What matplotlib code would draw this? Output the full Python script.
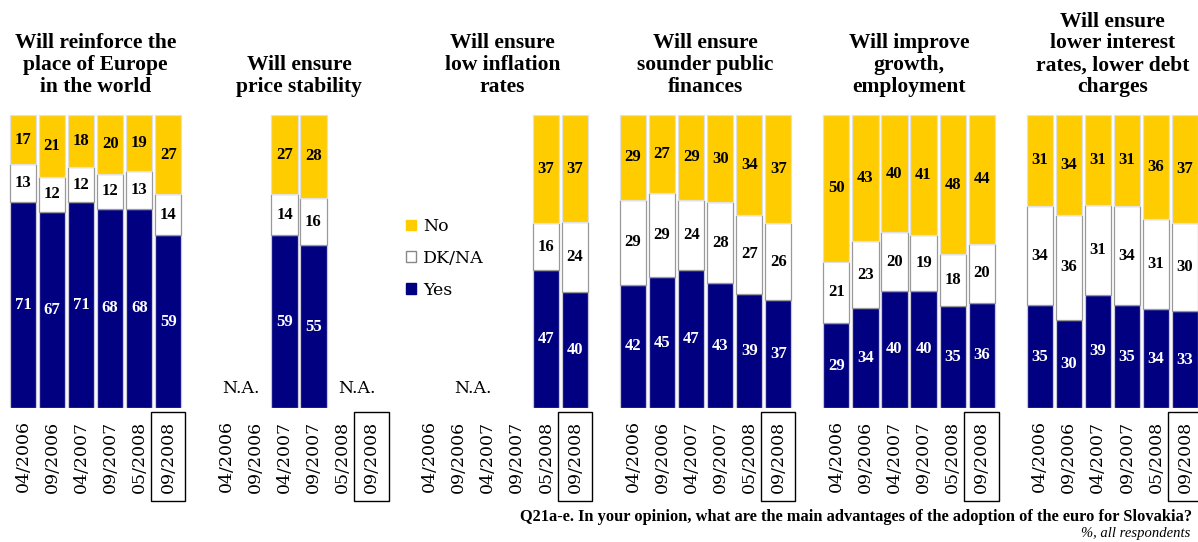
import numpy as np
import matplotlib.pyplot as plt
from matplotlib.patches import Patch

# ---------------- data ----------------
periods = ["04/2006", "09/2006", "04/2007", "09/2007", "05/2008", "09/2008"]
titles = [
    "Will reinforce the\nplace of Europe\nin the world",
    "Will ensure\nprice stability",
    "Will ensure\nlow inflation\nrates",
    "Will ensure\nsounder public\nfinances",
    "Will improve\ngrowth,\nemployment",
    "Will ensure\nlower interest\nrates, lower debt\ncharges",
]
N = None
yes_vals = [
    [71, 67, 71, 68, 68, 59],
    [N, N, 59, 55, N, N],
    [N, N, N, N, 47, 40],
    [42, 45, 47, 43, 39, 37],
    [29, 34, 40, 40, 35, 36],
    [35, 30, 39, 35, 34, 33],
]
dk_vals = [
    [13, 12, 12, 12, 13, 14],
    [N, N, 14, 16, N, N],
    [N, N, N, N, 16, 24],
    [29, 29, 24, 28, 27, 26],
    [21, 23, 20, 19, 18, 20],
    [34, 36, 31, 34, 31, 30],
]
no_vals = [
    [17, 21, 18, 20, 19, 27],
    [N, N, 27, 28, N, N],
    [N, N, N, N, 37, 37],
    [29, 27, 29, 30, 34, 37],
    [50, 43, 40, 41, 48, 44],
    [31, 34, 31, 31, 36, 37],
]
series_names = ["Yes", "DK/NA", "No"]
footnote = "Q21a-e. In your opinion, what are the main advantages of the adoption of the euro for Slovakia?"
subnote = "%, all respondents"
na_text = "N.A."

# ---------------- style ----------------
NAVY = "#000080"
YELLOW = "#FFCC00"
WHITE = "#FFFFFF"
W, H = 1198, 542
fig = plt.figure(figsize=(W / 100, H / 100), dpi=100)

ax_bottom_px, ax_top_px = 408, 115
ax = fig.add_axes([0, (H - ax_bottom_px) / H, 1, (ax_bottom_px - ax_top_px) / H])
pitch = 29.05
first_center = 23
ax.set_xlim(-first_center / pitch, (W - first_center) / pitch)
ax.set_ylim(0, 1)
for s in ax.spines.values():
    s.set_visible(False)
ax.set_yticks([])

num_font = dict(family="Liberation Serif", weight="bold", fontsize=12)
group_gap = 7
positions, labels = [], []
boxed = []
for p in range(len(titles)):
    ys = yes_vals[p]; ds = dk_vals[p]; ns = no_vals[p]
    for s in range(len(periods)):
        x = p * group_gap + s
        positions.append(x)
        labels.append(periods[s])
        boxed.append(s == len(periods) - 1)
        if ys[s] is None:
            continue
        tot = ys[s] + ds[s] + ns[s]
        segs = [(ys[s], NAVY, "#c8c8d8", "white"),
                (ds[s], WHITE, "#999999", "black"),
                (ns[s], YELLOW, "#e0e0e0", "black")]
        bottom = 0
        for v, col, ec, tc in segs:
            h = v / tot
            ax.bar(x, h, bottom=bottom, width=0.9, color=col, edgecolor=ec, linewidth=0.9)
            ax.text(x, bottom + h / 2, str(v), ha="center", va="center", color=tc, **num_font)
            bottom += h
    # N.A. markers on runs of missing data
    s = 0
    while s < len(periods):
        if ys[s] is None:
            e = s
            while e + 1 < len(periods) and ys[e + 1] is None:
                e += 1
            ax.text(p * group_gap + (s + e) / 2, 0.068, na_text, ha="center", va="center",
                    family="DejaVu Serif", fontsize=12.5, color="black")
            s = e + 1
        else:
            s += 1
    # panel title
    cx = p * group_gap + (len(periods) - 1) / 2
    ax.text(cx, 1 + 18 / 293, titles[p], ha="center", va="bottom", multialignment="center",
            family="Liberation Serif", weight="bold", fontsize=15.5, linespacing=1.12,
            transform=ax.transData, clip_on=False)

ax.set_xticks(positions)
ax.set_xticklabels(labels, rotation=90, family="DejaVu Serif", fontsize=12.5)
ax.tick_params(axis="x", length=0, pad=9)
for lab, b in zip(ax.get_xticklabels(), boxed):
    lab.set_verticalalignment("top")
    if b:
        lab.set_bbox(dict(boxstyle="square,pad=0.5", facecolor="white", edgecolor="black", linewidth=1))

handles = [Patch(facecolor=YELLOW, edgecolor=YELLOW),
           Patch(facecolor=WHITE, edgecolor="#888888"),
           Patch(facecolor=NAVY, edgecolor=NAVY)]
fig.legend(handles, [series_names[2], series_names[1], series_names[0]],
           loc="upper left", bbox_to_anchor=(406 / W, 1 - 218 / H), frameon=False,
           prop=dict(family="DejaVu Serif", size=12.5), handlelength=0.55, handleheight=0.55,
           handletextpad=0.45, labelspacing=0.85, borderpad=0, borderaxespad=0)

fig.text(1192 / W, 1 - 517 / H, footnote, ha="right", va="center",
         family="Liberation Serif", weight="bold", fontsize=11.8)
fig.text(1190 / W, 1 - 533 / H, subnote, ha="right", va="center",
         family="Liberation Serif", style="italic", fontsize=10.5)

fig.savefig("out.png", dpi=100)
